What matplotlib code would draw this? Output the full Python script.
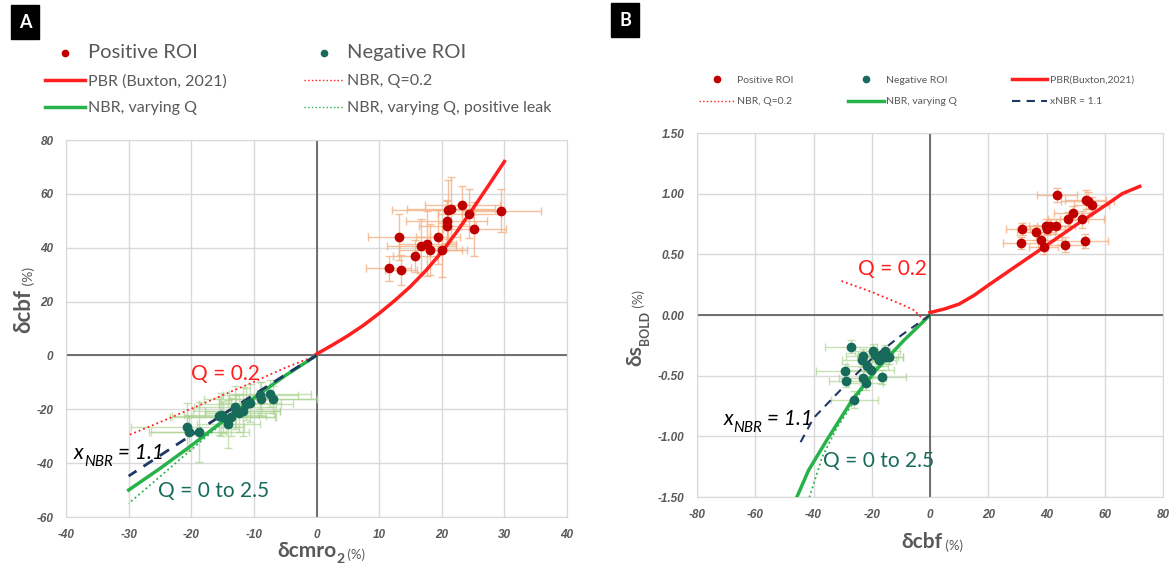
import numpy as np
import matplotlib.pyplot as plt
from matplotlib.lines import Line2D

plt.rcParams['font.family'] = ['Lato', 'DejaVu Sans']

# ---- panel A data : dCMRO2 vs dCBF ----
posA_cmro2 = [11.5, 13.5, 13.2, 15.7, 16.7, 17.7, 18.2, 19.4, 20.1, 20.8, 20.9, 21.0, 21.5, 23.3, 24.4, 25.2, 29.5]
posA_cbf = [32.4, 31.7, 44.0, 36.8, 40.6, 41.5, 39.3, 44.0, 39.3, 49.8, 48.2, 54.1, 54.3, 55.9, 52.7, 47.0, 53.8]
posA_xerr = [3.6, 2.5, 4.9, 3.5, 5.5, 4.5, 5.0, 3.5, 4.0, 6.5, 4.5, 9.0, 7.0, 6.0, 5.0, 5.0, 6.3]
posA_yerr = [4.7, 5.5, 8.5, 6.0, 10.0, 12.0, 9.5, 10.0, 10.0, 8.0, 9.0, 11.0, 12.0, 7.0, 9.0, 10.0, 8.0]

negA_cmro2 = [-20.6, -20.4, -18.8, -15.6, -15.2, -14.9, -14.1, -13.6, -13.0, -12.8, -12.3, -11.8, -11.2, -10.6, -9.0, -8.9, -7.4, -7.0]
negA_cbf = [-26.5, -28.6, -28.4, -22.6, -22.0, -22.8, -25.5, -22.8, -19.2, -20.6, -21.3, -20.8, -18.0, -17.6, -14.8, -16.0, -14.2, -16.2]
negA_xerr = [9.0, 6.0, 8.0, 7.5, 6.0, 8.5, 5.0, 7.0, 6.5, 7.0, 5.5, 6.0, 7.5, 5.0, 6.0, 9.0, 6.5, 7.0]
negA_yerr = [9.0, 6.0, 11.0, 7.0, 8.0, 6.0, 9.0, 7.0, 8.0, 6.0, 7.0, 9.0, 6.0, 7.0, 5.0, 6.0, 5.0, 5.0]

pbrA_x = [0, 2.5, 5, 7.5, 10, 12.5, 15, 17.5, 20, 22.5, 25, 27.5, 30]
pbrA_y = [0.5, 3.8, 7.3, 11.2, 15.6, 20.4, 25.6, 31.6, 38.4, 46.2, 54.6, 63.2, 72.0]
q02A_x = [0, -5, -10, -15, -20, -25, -30]
q02A_y = [0, -4.6, -9.8, -14.8, -19.8, -24.8, -29.6]
xnbrA_x = [0, -5, -10, -15, -20, -25, -30]
xnbrA_y = [0, -7.2, -14.6, -22.0, -29.6, -37.2, -44.8]
varqA_x = [0, -5, -10, -15, -20, -25, -30]
varqA_y = [0, -7.5, -15.8, -24.5, -33.5, -42.0, -50.0]
leakA_x = [0, -5, -10, -15, -20, -25, -30]
leakA_y = [0, -7.5, -15.8, -25.0, -35.0, -45.0, -55.0]

# ---- panel B data : dCBF vs dS_BOLD ----
posB_cbf = [43.6, 31.7, 31.1, 36.3, 38.2, 39.0, 39.8, 40.2, 41.1, 43.2, 46.4, 47.4, 49.1, 52.1, 53.2, 53.4, 54.1, 55.6]
posB_bold = [0.99, 0.71, 0.59, 0.68, 0.62, 0.56, 0.73, 0.71, 0.73, 0.73, 0.58, 0.79, 0.84, 0.79, 0.61, 0.95, 0.94, 0.91]
posB_xerr = [7.0, 5.5, 6.0, 6.5, 7.0, 5.0, 8.0, 6.0, 7.0, 6.5, 6.0, 7.0, 6.5, 7.5, 8.0, 7.0, 9.0, 6.0]
posB_yerr = [0.06, 0.05, 0.05, 0.06, 0.06, 0.06, 0.06, 0.05, 0.06, 0.06, 0.06, 0.06, 0.06, 0.07, 0.06, 0.08, 0.07, 0.06]

negB_cbf = [-27.2, -29.2, -28.7, -26.0, -23.3, -22.9, -23.1, -22.1, -21.5, -20.4, -19.6, -17.9, -17.6, -16.4, -15.4, -15.1, -14.1, -18.8]
negB_bold = [-0.26, -0.46, -0.54, -0.70, -0.37, -0.34, -0.52, -0.56, -0.42, -0.45, -0.30, -0.35, -0.37, -0.51, -0.30, -0.35, -0.35, -0.33]
negB_xerr = [9.0, 10.0, 6.0, 8.0, 7.0, 6.0, 8.0, 6.0, 7.0, 8.0, 6.0, 7.0, 6.0, 8.0, 5.0, 6.0, 5.0, 6.0]
negB_yerr = [0.05, 0.06, 0.05, 0.07, 0.06, 0.06, 0.06, 0.06, 0.05, 0.06, 0.06, 0.05, 0.05, 0.06, 0.05, 0.05, 0.05, 0.05]

pbrB_x = [0, 5, 10, 15, 20, 30, 40, 50, 60, 66, 72]
pbrB_y = [0.02, 0.05, 0.09, 0.16, 0.245, 0.41, 0.574, 0.74, 0.90, 1.0, 1.06]
q02B_x = [-30.4, -20, -10, -5.5, -3, -1.5]
q02B_y = [0.28, 0.19, 0.09, 0.04, -0.02, -0.07]
xnbrB_x = [0, -10, -20, -30, -40, -44.7]
xnbrB_y = [0, -0.17, -0.36, -0.60, -0.85, -1.06]
varqB_x = [0, -9, -18, -26.7, -35.4, -41.7, -45.7]
varqB_y = [0, -0.21, -0.44, -0.70, -1.03, -1.28, -1.5]
leakB_x = [0, -9, -18, -26, -32, -37, -41.4]
leakB_y = [0, -0.21, -0.44, -0.71, -0.93, -1.17, -1.5]

RED = '#FF1F1F'
DRED = '#C00000'
GREEN = '#28B24A'
TEAL = '#176B5B'
NAVY = '#1F3864'
GRAY = '#595959'

W, H = 1173, 565
fig = plt.figure(figsize=(W / 100, H / 100), dpi=100)


def box(l, t, r, b):
    return [l / W, 1 - b / H, (r - l) / W, (b - t) / H]


def style(ax, xt, yt, yfmt='%g'):
    tick_kw = dict(fontstyle='italic', fontweight='bold', family='Liberation Sans',
                   size=8.5, color=GRAY)
    ax.set_xticks(xt)
    ax.set_yticks(yt)
    ax.set_xticklabels(['%g' % v for v in xt], **tick_kw)
    ax.set_yticklabels([yfmt % v for v in yt], **tick_kw)
    ax.set_xlim(xt[0], xt[-1])
    ax.set_ylim(yt[0], yt[-1])
    ax.grid(True, color='#D9D9D9', lw=1)
    ax.set_axisbelow(True)
    for s in ax.spines.values():
        s.set_color('#D9D9D9')
    ax.tick_params(length=0, pad=9)
    ax.axhline(0, color=GRAY, lw=1.2, zorder=1)
    ax.axvline(0, color=GRAY, lw=1.2, zorder=1)


def chain(x, y, pieces, rot=0):
    # pieces: (text, size, weight, color, offset)
    s, sz, wt, c, dy = pieces[0]
    prev = fig.text(x / W, 1 - y / H, s, size=sz, weight=wt, color=c,
                    rotation=rot, ha='left' if rot == 0 else 'center',
                    va='baseline' if rot == 0 else 'bottom')
    for s, sz, wt, c, dy in pieces[1:]:
        if rot == 0:
            prev = plt.annotate(s, xy=(1, 0), xycoords=prev, xytext=(0, dy), textcoords='offset points',
                                size=sz, weight=wt, color=c, ha='left', va='bottom',
                                annotation_clip=False)
        else:
            prev = plt.annotate(s, xy=(1, 1), xycoords=prev, xytext=(dy, 0), textcoords='offset points',
                                size=sz, weight=wt, color=c, ha='right', va='bottom',
                                rotation=90, annotation_clip=False)
    return prev


# ================= Panel A =================
axA = fig.add_axes(box(66, 140, 567, 517))
style(axA, np.arange(-40, 41, 10), np.arange(-60, 81, 20))
axA.errorbar(posA_cmro2, posA_cbf, xerr=posA_xerr, yerr=posA_yerr, fmt='none',
             ecolor='#F4B183', elinewidth=1, capsize=3, alpha=0.8, zorder=2)
axA.errorbar(negA_cmro2, negA_cbf, xerr=negA_xerr, yerr=negA_yerr, fmt='none',
             ecolor='#A9D18E', elinewidth=1, capsize=3, alpha=0.65, zorder=2)
axA.plot(q02A_x, q02A_y, color=RED, ls=':', lw=1.3, zorder=3)
axA.plot(leakA_x, leakA_y, color=GREEN, ls=':', lw=1.3, zorder=3)
axA.plot(varqA_x, varqA_y, color=GREEN, lw=2.5, zorder=3)
axA.plot(xnbrA_x, xnbrA_y, color=NAVY, ls=(0, (4, 3)), lw=2, zorder=4)
axA.plot(pbrA_x, pbrA_y, color=RED, lw=2.5, zorder=3)
axA.plot(posA_cmro2, posA_cbf, 'o', color=DRED, ms=6, zorder=5)
axA.plot(negA_cmro2, negA_cbf, 'o', color=TEAL, ms=6, zorder=5)

axA.text(-14.5, -7, 'Q = 0.2', color=RED, size=15, ha='center', va='center')
axA.text(-16.5, -50.5, 'Q = 0 to 2.5', color=TEAL, size=15, ha='center', va='center')

hA = [Line2D([], [], marker='o', ls='none', color=DRED, ms=4.5),
      Line2D([], [], color=RED, lw=2.5),
      Line2D([], [], color=GREEN, lw=2.5),
      Line2D([], [], marker='o', ls='none', color=TEAL, ms=4.5),
      Line2D([], [], color=RED, ls=':', lw=1),
      Line2D([], [], color=GREEN, ls=':', lw=1)]
lA = ['Positive ROI', 'PBR (Buxton, 2021)', 'NBR, varying Q',
      'Negative ROI', 'NBR, Q=0.2', 'NBR, varying Q, positive leak']
legA = fig.legend(hA, lA, ncol=2, loc='upper left', bbox_to_anchor=(31 / W, 1 - 30 / H),
                  frameon=False, fontsize=11.5, handlelength=2.5, handletextpad=0.2,
                  columnspacing=4.8, labelspacing=0.8, labelcolor=GRAY)
legA.get_texts()[0].set_fontsize(14.5)
legA.get_texts()[3].set_fontsize(14.5)

# ================= Panel B =================
axB = fig.add_axes(box(697, 133, 1163, 497))
style(axB, np.arange(-80, 81, 20), np.arange(-1.5, 1.51, 0.5), yfmt='%.2f')
axB.errorbar(posB_cbf, posB_bold, xerr=posB_xerr, yerr=posB_yerr, fmt='none',
             ecolor='#F4B183', elinewidth=1, capsize=3, alpha=0.8, zorder=2)
axB.errorbar(negB_cbf, negB_bold, xerr=negB_xerr, yerr=negB_yerr, fmt='none',
             ecolor='#A9D18E', elinewidth=1, capsize=3, alpha=0.65, zorder=2)
axB.plot(q02B_x, q02B_y, color=RED, ls=':', lw=1.3, zorder=3)
axB.plot(leakB_x, leakB_y, color=GREEN, ls=':', lw=1.3, zorder=3)
axB.plot(varqB_x, varqB_y, color=GREEN, lw=2.5, zorder=3)
axB.plot(xnbrB_x, xnbrB_y, color=NAVY, ls=(0, (4, 3)), lw=1.5, zorder=4)
axB.plot(pbrB_x, pbrB_y, color=RED, lw=2.5, zorder=3)
axB.plot(posB_cbf, posB_bold, 'o', color=DRED, ms=6, zorder=5)
axB.plot(negB_cbf, negB_bold, 'o', color=TEAL, ms=6, zorder=5)

axB.text(-13, 0.38, 'Q = 0.2', color=RED, size=15, ha='center', va='center')
axB.text(-17.6, -1.2, 'Q = 0 to 2.5', color=TEAL, size=15, ha='center', va='center')

hB = [Line2D([], [], marker='o', ls='none', color=DRED, ms=4.5),
      Line2D([], [], color=RED, ls=':', lw=1),
      Line2D([], [], marker='o', ls='none', color=TEAL, ms=4.5),
      Line2D([], [], color=GREEN, lw=2.5),
      Line2D([], [], color=RED, lw=2.5),
      Line2D([], [], color=NAVY, ls=(0, (4, 3)), lw=1.5)]
lB = ['Positive ROI', 'NBR, Q=0.2', 'Negative ROI', 'NBR, varying Q',
      'PBR(Buxton,2021)', 'xNBR = 1.1']
fig.legend(hB, lB, ncol=3, loc='upper left', bbox_to_anchor=(690 / W, 1 - 66 / H),
           frameon=False, fontsize=7.5, handlelength=3.4, handletextpad=0.2,
           columnspacing=5.3, labelspacing=1.2, labelcolor=GRAY)

# ---- axis labels ----
chain(277, 557, [('δcmro', 15, 'bold', GRAY, 0),
                 ('2', 10, 'bold', GRAY, -3),
                 (' (%)', 9.5, 'normal', GRAY, 3)])
chain(24, 333, [('δcbf', 16, 'bold', GRAY, 0),
                (' (%)', 10, 'normal', GRAY, 0)], rot=90)
chain(901, 548, [('δcbf', 15, 'bold', GRAY, 0),
                 (' (%)', 9.5, 'normal', GRAY, 0)])
chain(635, 366, [('δs', 15, 'bold', GRAY, 0),
                 ('BOLD', 9, 'bold', GRAY, 4),
                 (' (%)', 9.5, 'normal', GRAY, -4)], rot=90)

# x_NBR annotations
for ax, xx, yy in [(axA, -38.7, -38.5), (axB, -71, -0.91)]:
    p = ax.text(xx, yy, 'x', style='italic', size=15, color='black', va='baseline')
    p = ax.annotate('NBR', xy=(1, 0), xycoords=p, xytext=(0, -4), textcoords='offset points',
                    style='italic', size=11, color='black', va='bottom')
    ax.annotate(' = 1.1', xy=(1, 0), xycoords=p, xytext=(0, 4), textcoords='offset points',
                style='italic', size=15, color='black', va='bottom')

# panel letters
for x, y, s in [(25, 22, 'A'), (625, 20, 'B')]:
    fig.text(x / W, 1 - y / H, s, color='white', weight='bold', size=13, ha='center', va='center',
             bbox=dict(boxstyle='square,pad=0.45', fc='black', ec='black'))

fig.savefig('out.png', dpi=100)
